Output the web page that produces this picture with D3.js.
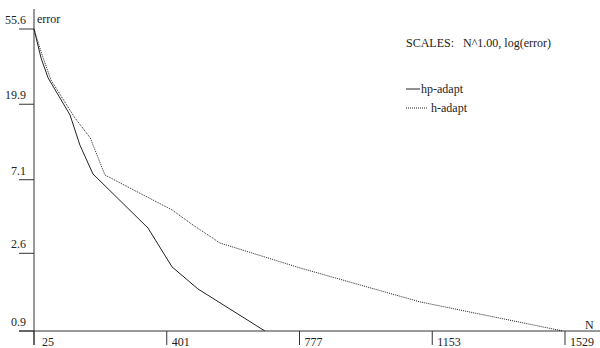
<!DOCTYPE html>
<html>
<head>
<meta charset="utf-8">
<script src="https://cdn.jsdelivr.net/npm/d3@7/dist/d3.min.js"></script>
<style>
  body { margin: 0; background: #fff; }
  svg text { font-family: "Liberation Serif", "DejaVu Serif", serif; font-size: 12px; fill: #222; }
</style>
</head>
<body>
<div id="container"></div>
<script>
// x = N (degrees of freedom), y = error
const hpN = [25, 45, 65, 127, 155, 192, 348, 416, 489, 679]
const hpErr = [55.6, 37.4, 28.5, 17.2, 11.4, 7.68, 3.67, 2.16, 1.60, 0.9]

const hN = [25, 48, 73, 141, 184, 226, 416, 475, 552, 778, 1118, 1523]
const hErr = [55.6, 39.0, 27.7, 16.5, 12.6, 7.57, 4.70, 3.83, 2.99, 2.13, 1.34, 0.9]

const xTicks = [25, 401, 777, 1153, 1529]
const yTicks = [55.6, 19.9, 7.1, 2.6, 0.9]

const width = 600
const height = 348

const svg = d3.select('#container')
  .append('svg')
  .attr('width', width)
  .attr('height', height)

const x = d3.scaleLinear().domain([25, 1529]).range([34, 565])
const y = d3.scaleLog().domain([0.9, 55.6]).range([331, 29])

const axisColor = '#333'

// y axis line
svg.append('line')
  .attr('x1', 34).attr('x2', 34)
  .attr('y1', 9).attr('y2', 345)
  .attr('stroke', axisColor)

// x axis line
svg.append('line')
  .attr('x1', 19).attr('x2', 600)
  .attr('y1', y(0.9)).attr('y2', y(0.9))
  .attr('stroke', axisColor)

// y ticks
yTicks.forEach(function (t) {
  svg.append('line')
    .attr('x1', 19).attr('x2', 34)
    .attr('y1', y(t)).attr('y2', y(t))
    .attr('stroke', axisColor)
  svg.append('text')
    .attr('x', 26)
    .attr('y', y(t) - 5)
    .attr('text-anchor', 'end')
    .text(t.toFixed(1))
})

// x ticks
xTicks.forEach(function (t) {
  svg.append('line')
    .attr('x1', x(t)).attr('x2', x(t))
    .attr('y1', y(0.9)).attr('y2', 345)
    .attr('stroke', axisColor)
  svg.append('text')
    .attr('x', x(t) + (t === 25 ? 8 : 5))
    .attr('y', 346)
    .text(t)
})

svg.append('text').attr('x', 37).attr('y', 23).text('error')
svg.append('text').attr('x', 585).attr('y', 329).text('N')

const line = d3.line()
  .x(d => x(d[0]))
  .y(d => y(d[1]))

svg.append('path')
  .datum(d3.zip(hpN, hpErr))
  .attr('d', line)
  .attr('fill', 'none')
  .attr('stroke', '#222')
  .attr('stroke-width', 1)

svg.append('path')
  .datum(d3.zip(hN, hErr))
  .attr('d', line)
  .attr('fill', 'none')
  .attr('stroke', '#222')
  .attr('stroke-width', 1)
  .attr('stroke-dasharray', '1,1')

// header + legend
svg.append('text').attr('x', 406).attr('y', 47).text('SCALES:')
svg.append('text').attr('x', 463).attr('y', 47).text('N^1.00, log(error)')

svg.append('line')
  .attr('x1', 406).attr('x2', 420)
  .attr('y1', 89).attr('y2', 89)
  .attr('stroke', '#222')
svg.append('text').attr('x', 421).attr('y', 93).text('hp-adapt')

svg.append('line')
  .attr('x1', 406).attr('x2', 427)
  .attr('y1', 108).attr('y2', 108)
  .attr('stroke', '#222')
  .attr('stroke-dasharray', '1,1')
svg.append('text').attr('x', 431).attr('y', 112).text('h-adapt')
</script>
</body>
</html>
